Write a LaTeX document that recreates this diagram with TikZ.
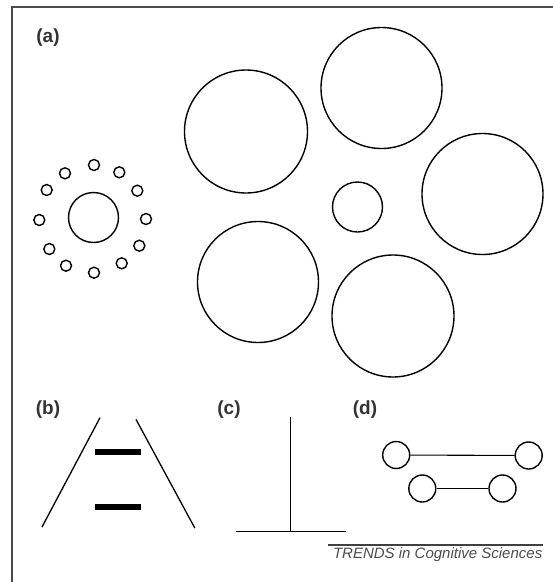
\documentclass[tikz,border=0pt]{standalone}
\usepackage{fontspec}
\setmainfont{Liberation Sans}
\begin{document}
\begin{tikzpicture}[x=1pt,y=-1pt,
  ring/.style={circle,draw=black,line width=1.4pt,inner sep=0pt,minimum size=#1},
  dot/.style={circle,draw=black,line width=1.4pt,inner sep=0pt,minimum size=11pt},
  panel/.style={font=\bfseries\fontsize{19}{19}\selectfont,text=black!80,inner sep=0pt},
  thin/.style={line width=1.3pt,draw=black},
  bar/.style={line width=6pt,draw=black},
  frame/.style={line width=2pt,draw=black!70}]
\useasboundingbox (0,0) rectangle (553,582);
% frame
\coordinate (fbl) at (12,582);
\coordinate (ftl) at (12,7.3);
\coordinate (ftr) at (553,7.3);
\draw[frame] (fbl) -- (ftl) -- (ftr);
% labels
\node[panel] (la) at (48,37.5) {(a)};
\node[panel] (lb) at (48,410) {(b)};
\node[panel] (lc) at (229,410) {(c)};
\node[panel] (ld) at (365,410) {(d)};
% panel (a): big circles
\node[ring=123pt] (c1) at (246,131.5) {};
\node[ring=121pt] (c2) at (381.5,88) {};
\node[ring=121pt] (c3) at (482.5,194) {};
\node[ring=50pt] (c4) at (357.5,207) {};
\node[ring=121pt] (c5) at (258,282) {};
\node[ring=122pt] (c6) at (393,316) {};
% panel (a): small cluster
\node[ring=50pt] (cc) at (93.5,217.5) {};
\node[dot] (s1) at (94,165) {};
\node[dot] (s2) at (119.3,172.3) {};
\node[dot] (s3) at (137.3,190.7) {};
\node[dot] (s4) at (146,219) {};
\node[dot] (s5) at (139.3,245.7) {};
\node[dot] (s6) at (121.7,263.3) {};
\node[dot] (s7) at (94,272.7) {};
\node[dot] (s8) at (66,265.7) {};
\node[dot] (s9) at (49.3,249) {};
\node[dot] (s10) at (39.3,220) {};
\node[dot] (s11) at (46.7,190) {};
\node[dot] (s12) at (65,173.3) {};
% panel (b)
\coordinate (bl1) at (100,417.7);
\coordinate (bl2) at (42,527);
\coordinate (br1) at (136,419.4);
\coordinate (br2) at (194.8,528);
\draw[thin] (bl1) -- (bl2);
\draw[thin] (br1) -- (br2);
\coordinate (b1a) at (95.4,452.2);
\coordinate (b1b) at (141,452.2);
\coordinate (b2a) at (95.4,507);
\coordinate (b2b) at (141,507);
\draw[bar] (b1a) -- (b1b);
\draw[bar] (b2a) -- (b2b);
% panel (c)
\coordinate (ct) at (290.5,417);
\coordinate (cb) at (290.5,531.3);
\coordinate (chl) at (235.7,531.3);
\coordinate (chr) at (346.2,531.3);
\draw[thin] (ct) -- (cb);
\draw[thin] (chl) -- (chr);
% panel (d)
\node[ring=27pt] (d1) at (396.2,455) {};
\node[ring=27pt] (d2) at (528.7,455.5) {};
\node[ring=27pt] (d3) at (422.3,488.5) {};
\node[ring=27pt] (d4) at (502.5,488.5) {};
\draw[line width=1.1pt] (d1) -- (d2);
\draw[line width=1.1pt] (d3) -- (d4);
% credit
\coordinate (tl1) at (328,545);
\coordinate (tl2) at (542.7,545);
\draw[line width=1.3pt,draw=black!75] (tl1) -- (tl2);
\node[anchor=east,inner sep=0pt,text=black!70,font=\itshape\fontsize{15}{15}\selectfont] (credit) at (542.5,555) {TRENDS in Cognitive Sciences};
\end{tikzpicture}
\end{document}
